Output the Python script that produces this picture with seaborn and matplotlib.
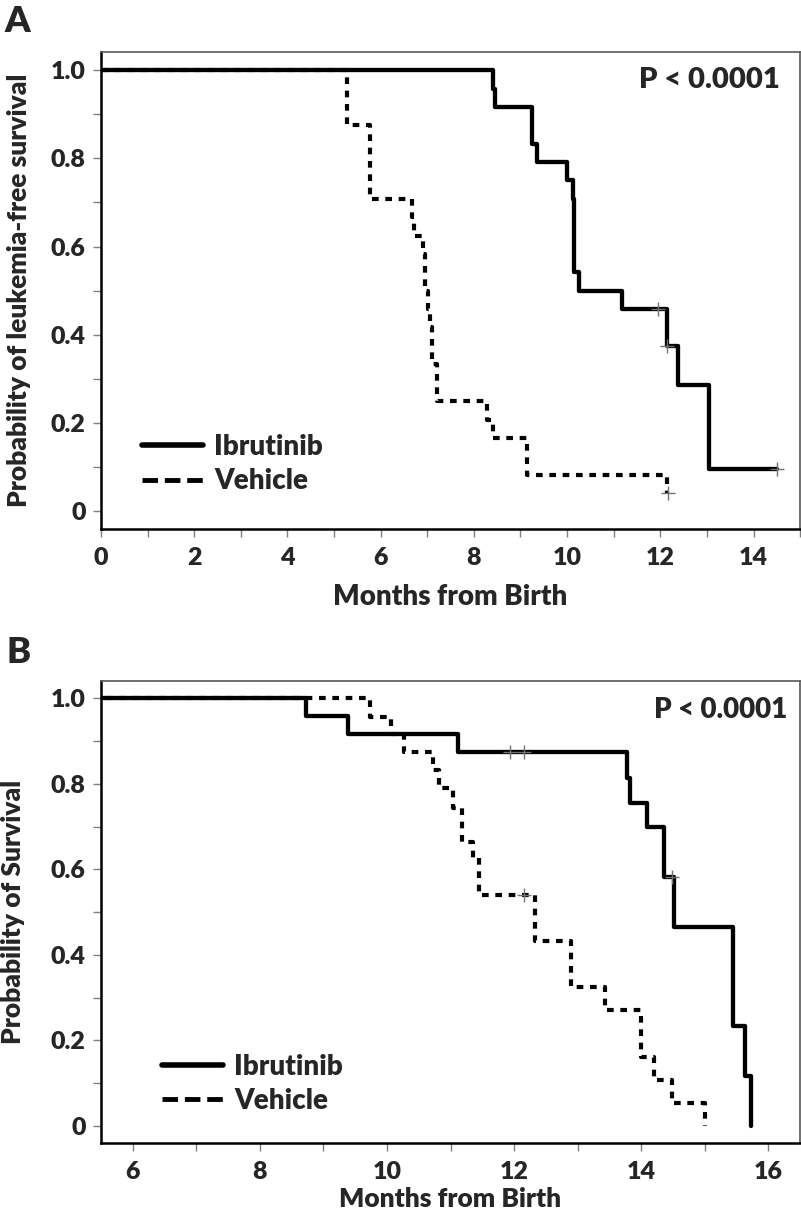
import numpy as np
import pandas as pd
import matplotlib
matplotlib.use("Agg")
import matplotlib.pyplot as plt
import seaborn as sns
from matplotlib.ticker import MultipleLocator

sns.set_theme(style="white")
plt.rcParams['font.family'] = ['Lato', 'DejaVu Sans']
W = 'heavy'  # peso da fonte, o original e bem carregado

# =========================
# Dados
# =========================
# Painel A - sobrevida livre de leucemia
a_ibr_time = [0, 8.41, 8.45, 9.25, 9.35, 10.00, 10.13, 10.15, 10.26, 11.18, 12.15, 12.37, 13.05, 14.50]
a_ibr_surv = [1.0, 0.958, 0.917, 0.833, 0.792, 0.750, 0.708, 0.542, 0.500, 0.458, 0.375, 0.286, 0.095, 0.095]
a_ibr_cens_time = [11.94, 12.15, 14.50]
a_ibr_cens_surv = [0.458, 0.375, 0.095]

a_veh_time = [0, 5.27, 5.78, 6.68, 6.72, 6.90, 6.95, 7.01, 7.05, 7.10, 7.20, 8.28, 8.41, 9.13, 12.15]
a_veh_surv = [1.0, 0.875, 0.708, 0.667, 0.625, 0.583, 0.500, 0.458, 0.417, 0.333, 0.250, 0.208, 0.167, 0.083, 0.042]
a_veh_cens_time = [12.17]
a_veh_cens_surv = [0.042]

# Painel B - sobrevida global
b_ibr_time = [0, 8.72, 9.38, 11.12, 13.78, 13.82, 14.09, 14.36, 14.52, 15.44, 15.63, 15.72]
b_ibr_surv = [1.0, 0.958, 0.917, 0.875, 0.814, 0.756, 0.698, 0.582, 0.465, 0.233, 0.116, 0.0]
b_ibr_cens_time = [11.94, 12.16, 14.49]
b_ibr_cens_surv = [0.875, 0.875, 0.582]

b_veh_time = [0, 9.74, 10.07, 10.27, 10.73, 10.82, 11.04, 11.18, 11.35, 11.45, 12.33, 12.90, 13.43, 14.00, 14.20, 14.48, 15.01]
b_veh_surv = [1.0, 0.955, 0.917, 0.873, 0.833, 0.790, 0.744, 0.663, 0.626, 0.541, 0.433, 0.325, 0.271, 0.162, 0.108, 0.054, 0.0]
b_veh_cens_time = [12.16]
b_veh_cens_surv = [0.541]

arms = ['Ibrutinib', 'Vehicle']
y_ticks = [0, 0.2, 0.4, 0.6, 0.8, 1.0]
y_tick_labels = ['0', '0.2', '0.4', '0.6', '0.8', '1.0']
a_x_ticks = [0, 2, 4, 6, 8, 10, 12, 14]
b_x_ticks = [6, 8, 10, 12, 14, 16]
p_text = 'P < 0.0001'

SOLID = dict(color='black', linewidth=3.1, zorder=3)
DASHED = dict(color='black', linewidth=3.0, linestyle=(0, (1.6, 1.6)), zorder=2)


def draw_km(ax, time, surv, label, style):
    df = pd.DataFrame({'time': time, 'surv': surv})
    sns.lineplot(data=df, x='time', y='surv', ax=ax, drawstyle='steps-post',
                 estimator=None, sort=False, label=label, **style)


def draw_censor(ax, time, surv):
    sns.scatterplot(x=time, y=surv, ax=ax, marker='+', s=90, color='0.45',
                    linewidth=1.0, zorder=4, legend=False)


def style_axes(ax, xlim, xticks, ylabel, label_x, xlabel_size, xlabel_y):
    ax.set_xlim(*xlim)
    ax.set_ylim(-0.04, 1.04)
    ax.set_xticks(xticks)
    ax.set_xticklabels([str(t) for t in xticks])
    ax.set_yticks(y_ticks)
    ax.set_yticklabels(y_tick_labels)
    ax.xaxis.set_minor_locator(MultipleLocator(1))
    ax.yaxis.set_minor_locator(MultipleLocator(0.1))
    ax.tick_params(which='both', direction='out', length=6, width=1, color='0.5',
                   bottom=True, left=True)
    ax.tick_params(axis='x', which='major', labelsize=18, pad=7)
    ax.tick_params(axis='y', which='major', labelsize=18, pad=5)
    for t in ax.get_xticklabels() + ax.get_yticklabels():
        t.set_fontweight(W)
    for side in ['left', 'bottom']:
        ax.spines[side].set_color('black')
        ax.spines[side].set_linewidth(1.8)
    for side in ['top', 'right']:
        ax.spines[side].set_color('0.35')
        ax.spines[side].set_linewidth(1.2)
    ax.set_xlabel('Months from Birth', fontsize=xlabel_size, fontweight=W, va='top')
    ax.xaxis.set_label_coords(0.5, xlabel_y)
    ax.set_ylabel(ylabel, fontsize=19, fontweight=W)
    ax.yaxis.set_label_coords(label_x, 0.5)


def add_legend(ax, anchor):
    handles = ax.get_lines()[:2]
    leg = ax.legend(handles=handles, labels=arms, loc='lower left', bbox_to_anchor=anchor,
                    frameon=False, fontsize=20, handlelength=2.2, handletextpad=0.4,
                    labelspacing=0.3, borderpad=0, borderaxespad=0)
    for t in leg.get_texts():
        t.set_fontweight(W)
    leg_lines = leg.get_lines()
    leg_lines[0].set_linewidth(4.0)
    leg_lines[1].set_linewidth(3.5)
    leg_lines[1].set_linestyle((0, (3.2, 1.4)))


fig = plt.figure(figsize=(8.01, 12.19), dpi=100)
ax_a = fig.add_axes([0.126, 0.566, 0.873, 0.391])
ax_b = fig.add_axes([0.126, 0.0623, 0.873, 0.379])

# Painel A
draw_km(ax_a, a_ibr_time, a_ibr_surv, arms[0], SOLID)
draw_km(ax_a, a_veh_time, a_veh_surv, arms[1], DASHED)
draw_censor(ax_a, a_ibr_cens_time, a_ibr_cens_surv)
draw_censor(ax_a, a_veh_cens_time, a_veh_cens_surv)
style_axes(ax_a, (0, 15), a_x_ticks, 'Probability of leukemia-free survival', -0.10, 20, -0.116)
add_legend(ax_a, (0.059, 0.073))
ax_a.text(0.971, 0.969, p_text, transform=ax_a.transAxes, ha='right', va='top',
          fontsize=21, fontweight=W)

# Painel B
draw_km(ax_b, b_ibr_time, b_ibr_surv, arms[0], SOLID)
draw_km(ax_b, b_veh_time, b_veh_surv, arms[1], DASHED)
draw_censor(ax_b, b_ibr_cens_time, b_ibr_cens_surv)
draw_censor(ax_b, b_veh_cens_time, b_veh_cens_surv)
style_axes(ax_b, (5.5, 16.5), b_x_ticks, 'Probability of Survival', -0.108, 19, -0.095)
add_legend(ax_b, (0.087, 0.063))
ax_b.text(0.981, 0.965, p_text, transform=ax_b.transAxes, ha='right', va='top',
          fontsize=20, fontweight=W)

fig.text(0.005, 0.996, 'A', ha='left', va='top', fontsize=26, fontweight=W)
fig.text(0.008, 0.478, 'B', ha='left', va='top', fontsize=26, fontweight=W)

fig.savefig('out.png', dpi=100)
plt.close(fig)
